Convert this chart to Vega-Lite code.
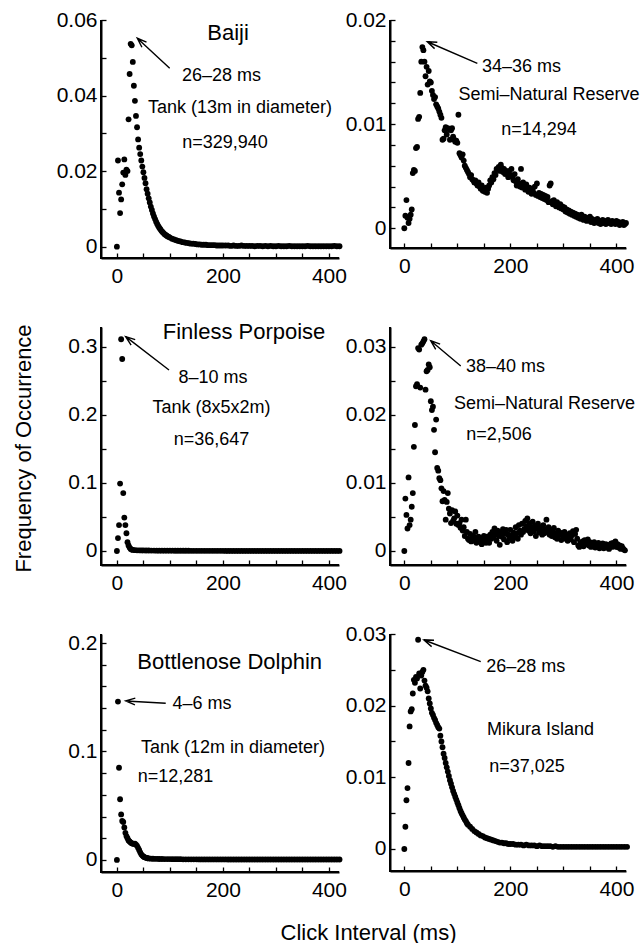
{
"$schema":"https://vega.github.io/schema/vega-lite/v6.json",
"padding":{"left":11,"top":9,"right":0,"bottom":0},
"bounds":"flush",
"columns":2,
"spacing":{"row":69,"column":51},
"config":{"font":"Liberation Sans","view":{"stroke":null},
"axis":{"domain":true,"ticks":true,"grid":false,"domainColor":"#000","domainWidth":2,"tickColor":"#000","tickWidth":1.3,"tickSize":-5,"labelColor":"#000","labelFontSize":21,"labelFont":"Liberation Sans","labelFlush":false,"labelOverlap":false,"titleColor":"#000","titleFont":"Liberation Sans","titleFontSize":22,"titleFontWeight":"normal"},
"axisX":{"labelPadding":12},"axisY":{"labelPadding":9}},
"datasets":{
"p1":[{"x":0,"y":0},{"x":2,"y":0.0228},{"x":4,"y":0.0143},{"x":6,"y":0.0089},{"x":8,"y":0.0125},{"x":10,"y":0.0165},{"x":12,"y":0.0196},{"x":14,"y":0.0231},{"x":16,"y":0.019},{"x":18,"y":0.0204},{"x":20,"y":0.02},{"x":22,"y":0.0337},{"x":24,"y":0.0457},{"x":26,"y":0.0537},{"x":28,"y":0.0533},{"x":30,"y":0.0489},{"x":32,"y":0.0426},{"x":34,"y":0.0386},{"x":36,"y":0.0346},{"x":38,"y":0.0316},{"x":40,"y":0.0284},{"x":42,"y":0.0262},{"x":44,"y":0.0245},{"x":46,"y":0.0228},{"x":48,"y":0.0212},{"x":50,"y":0.0197},{"x":52,"y":0.0182},{"x":54,"y":0.0168},{"x":56,"y":0.0152},{"x":58,"y":0.014},{"x":60,"y":0.0128},{"x":62,"y":0.0117},{"x":64,"y":0.0106},{"x":66,"y":0.0097},{"x":68,"y":0.0088},{"x":70,"y":0.008},{"x":72,"y":0.0073},{"x":74,"y":0.0066},{"x":76,"y":0.006},{"x":78,"y":0.0055},{"x":80,"y":0.005},{"x":82,"y":0.0046},{"x":84,"y":0.0042},{"x":86,"y":0.0039},{"x":88,"y":0.0036},{"x":90,"y":0.0033},{"x":92,"y":0.0031},{"x":94,"y":0.0029},{"x":96,"y":0.0027},{"x":98,"y":0.0026},{"x":100,"y":0.0024},{"x":104,"y":0.0021},{"x":108,"y":0.0019},{"x":112,"y":0.0017},{"x":116,"y":0.0015},{"x":120,"y":0.0014},{"x":124,"y":0.0012},{"x":128,"y":0.0011},{"x":132,"y":0.001},{"x":136,"y":0.0009},{"x":140,"y":0.0008},{"x":144,"y":0.0008},{"x":148,"y":0.0007},{"x":152,"y":0.0006},{"x":156,"y":0.0006},{"x":160,"y":0.0005},{"x":164,"y":0.0005},{"x":168,"y":0.0005},{"x":172,"y":0.0004},{"x":176,"y":0.0004},{"x":180,"y":0.0004},{"x":184,"y":0.0004},{"x":188,"y":0.0003},{"x":192,"y":0.0003},{"x":196,"y":0.0003},{"x":200,"y":0.0003},{"x":205,"y":0.0003},{"x":210,"y":0.0003},{"x":215,"y":0.0002},{"x":220,"y":0.0003},{"x":225,"y":0.0002},{"x":230,"y":0.0002},{"x":235,"y":0.0003},{"x":240,"y":0.0002},{"x":245,"y":0.0002},{"x":250,"y":0.0002},{"x":255,"y":0.0002},{"x":260,"y":0.0001},{"x":265,"y":0.0002},{"x":270,"y":0.0002},{"x":275,"y":0.0001},{"x":280,"y":0.0002},{"x":285,"y":0.0001},{"x":290,"y":0.0002},{"x":295,"y":0.0001},{"x":300,"y":0.0001},{"x":305,"y":0.0002},{"x":310,"y":0.0001},{"x":315,"y":0.0001},{"x":320,"y":0.0001},{"x":325,"y":0.0002},{"x":330,"y":0.0001},{"x":335,"y":0.0001},{"x":340,"y":0.0001},{"x":345,"y":0.0001},{"x":350,"y":0.0001},{"x":355,"y":0.0001},{"x":360,"y":0.0002},{"x":365,"y":0.0001},{"x":370,"y":0.0001},{"x":375,"y":0.0001},{"x":380,"y":0.0001},{"x":385,"y":0.0001},{"x":390,"y":0.0001},{"x":395,"y":0.0001},{"x":400,"y":0.0001},{"x":405,"y":0.0001},{"x":410,"y":0.0002},{"x":415,"y":0.0001},{"x":420,"y":0.0001}],
"p2":[{"x":0,"y":0},{"x":2,"y":0.0012},{"x":4,"y":0.0027},{"x":6,"y":0.001},{"x":8,"y":0.0005},{"x":10,"y":0.0009},{"x":12,"y":0.0013},{"x":14,"y":0.0018},{"x":16,"y":0.0053},{"x":18,"y":0.0056},{"x":20,"y":0.0055},{"x":22,"y":0.0077},{"x":24,"y":0.0078},{"x":26,"y":0.0105},{"x":28,"y":0.0107},{"x":30,"y":0.013},{"x":32,"y":0.016},{"x":34,"y":0.0174},{"x":36,"y":0.0171},{"x":38,"y":0.016},{"x":40,"y":0.0146},{"x":42,"y":0.0155},{"x":44,"y":0.0138},{"x":46,"y":0.0151},{"x":48,"y":0.0141},{"x":50,"y":0.014},{"x":52,"y":0.0132},{"x":54,"y":0.0128},{"x":56,"y":0.0124},{"x":58,"y":0.0126},{"x":60,"y":0.0119},{"x":62,"y":0.0117},{"x":64,"y":0.0115},{"x":66,"y":0.0112},{"x":68,"y":0.0109},{"x":70,"y":0.0106},{"x":72,"y":0.0085},{"x":74,"y":0.0086},{"x":76,"y":0.0094},{"x":78,"y":0.0097},{"x":80,"y":0.009},{"x":82,"y":0.0096},{"x":84,"y":0.0095},{"x":86,"y":0.0085},{"x":88,"y":0.0094},{"x":90,"y":0.0096},{"x":92,"y":0.0088},{"x":94,"y":0.0085},{"x":96,"y":0.0083},{"x":98,"y":0.0084},{"x":100,"y":0.0082},{"x":102,"y":0.0109},{"x":104,"y":0.0072},{"x":106,"y":0.007},{"x":108,"y":0.0068},{"x":110,"y":0.0071},{"x":112,"y":0.0065},{"x":114,"y":0.006},{"x":116,"y":0.0058},{"x":118,"y":0.0056},{"x":120,"y":0.0054},{"x":122,"y":0.0052},{"x":124,"y":0.0049},{"x":126,"y":0.0051},{"x":128,"y":0.0047},{"x":130,"y":0.0046},{"x":132,"y":0.0044},{"x":134,"y":0.0046},{"x":136,"y":0.0043},{"x":138,"y":0.0041},{"x":140,"y":0.0044},{"x":142,"y":0.004},{"x":144,"y":0.0038},{"x":146,"y":0.0041},{"x":148,"y":0.0036},{"x":150,"y":0.0037},{"x":152,"y":0.0035},{"x":154,"y":0.0039},{"x":156,"y":0.0034},{"x":158,"y":0.0038},{"x":160,"y":0.0041},{"x":162,"y":0.0046},{"x":164,"y":0.0044},{"x":166,"y":0.0049},{"x":168,"y":0.0047},{"x":170,"y":0.0053},{"x":172,"y":0.0051},{"x":174,"y":0.0057},{"x":176,"y":0.0056},{"x":178,"y":0.0059},{"x":180,"y":0.0055},{"x":182,"y":0.0061},{"x":184,"y":0.0058},{"x":186,"y":0.0054},{"x":188,"y":0.0057},{"x":190,"y":0.0052},{"x":192,"y":0.0055},{"x":194,"y":0.0053},{"x":196,"y":0.0049},{"x":198,"y":0.0055},{"x":200,"y":0.0051},{"x":202,"y":0.0057},{"x":204,"y":0.0049},{"x":206,"y":0.0046},{"x":208,"y":0.0052},{"x":210,"y":0.0045},{"x":212,"y":0.0041},{"x":214,"y":0.0047},{"x":216,"y":0.0043},{"x":218,"y":0.004},{"x":220,"y":0.0057},{"x":222,"y":0.0039},{"x":224,"y":0.0044},{"x":226,"y":0.0041},{"x":228,"y":0.0037},{"x":230,"y":0.0042},{"x":232,"y":0.0037},{"x":234,"y":0.0035},{"x":236,"y":0.0039},{"x":238,"y":0.0036},{"x":240,"y":0.0033},{"x":242,"y":0.0037},{"x":244,"y":0.0034},{"x":246,"y":0.004},{"x":248,"y":0.0032},{"x":250,"y":0.0043},{"x":252,"y":0.0031},{"x":254,"y":0.0034},{"x":256,"y":0.003},{"x":258,"y":0.0033},{"x":260,"y":0.0029},{"x":262,"y":0.0032},{"x":264,"y":0.0028},{"x":266,"y":0.0031},{"x":268,"y":0.0027},{"x":270,"y":0.003},{"x":272,"y":0.0025},{"x":274,"y":0.0041},{"x":276,"y":0.0043},{"x":278,"y":0.0026},{"x":280,"y":0.0023},{"x":282,"y":0.0027},{"x":284,"y":0.0024},{"x":286,"y":0.0021},{"x":288,"y":0.0025},{"x":290,"y":0.0022},{"x":292,"y":0.002},{"x":294,"y":0.0023},{"x":296,"y":0.0019},{"x":298,"y":0.0021},{"x":300,"y":0.0018},{"x":302,"y":0.002},{"x":304,"y":0.0016},{"x":306,"y":0.0018},{"x":308,"y":0.0015},{"x":310,"y":0.0017},{"x":312,"y":0.0014},{"x":314,"y":0.0016},{"x":316,"y":0.0013},{"x":318,"y":0.0015},{"x":320,"y":0.0012},{"x":322,"y":0.0014},{"x":324,"y":0.0011},{"x":326,"y":0.0013},{"x":328,"y":0.001},{"x":330,"y":0.0012},{"x":332,"y":0.0009},{"x":334,"y":0.0013},{"x":336,"y":0.001},{"x":338,"y":0.0008},{"x":340,"y":0.0011},{"x":342,"y":0.0009},{"x":344,"y":0.0007},{"x":346,"y":0.001},{"x":348,"y":0.0008},{"x":350,"y":0.0011},{"x":352,"y":0.0006},{"x":354,"y":0.0009},{"x":356,"y":0.0007},{"x":358,"y":0.0005},{"x":360,"y":0.0008},{"x":362,"y":0.0006},{"x":364,"y":0.0009},{"x":366,"y":0.0005},{"x":368,"y":0.0007},{"x":370,"y":0.0004},{"x":372,"y":0.0006},{"x":374,"y":0.0008},{"x":376,"y":0.0005},{"x":378,"y":0.0007},{"x":380,"y":0.0004},{"x":382,"y":0.0006},{"x":384,"y":0.0008},{"x":386,"y":0.0005},{"x":388,"y":0.0006},{"x":390,"y":0.0004},{"x":392,"y":0.0007},{"x":394,"y":0.0005},{"x":396,"y":0.0006},{"x":398,"y":0.0004},{"x":400,"y":0.0007},{"x":402,"y":0.0005},{"x":404,"y":0.0006},{"x":406,"y":0.0003},{"x":408,"y":0.0005},{"x":410,"y":0.0004},{"x":412,"y":0.0006},{"x":414,"y":0.0003},{"x":416,"y":0.0004},{"x":418,"y":0.0005}],
"p3":[{"x":0,"y":0},{"x":2,"y":0.019},{"x":4,"y":0.038},{"x":6,"y":0.099},{"x":8,"y":0.311},{"x":10,"y":0.282},{"x":12,"y":0.085},{"x":14,"y":0.049},{"x":16,"y":0.038},{"x":18,"y":0.026},{"x":20,"y":0.013},{"x":22,"y":0.008},{"x":24,"y":0.005},{"x":26,"y":0.003},{"x":28,"y":0.002},{"x":30,"y":0.0015},{"x":34,"y":0.0012},{"x":38,"y":0.001},{"x":42,"y":0.0009},{"x":46,"y":0.0008},{"x":50,"y":0.0008},{"x":55,"y":0.0007},{"x":60,"y":0.0007},{"x":65,"y":0.0006},{"x":70,"y":0.0006},{"x":75,"y":0.0005},{"x":80,"y":0.0005},{"x":85,"y":0.0005},{"x":90,"y":0.0004},{"x":95,"y":0.0004},{"x":100,"y":0.0004},{"x":105,"y":0.0004},{"x":110,"y":0.0003},{"x":115,"y":0.0003},{"x":120,"y":0.0003},{"x":125,"y":0.0003},{"x":130,"y":0.0003},{"x":135,"y":0.0003},{"x":140,"y":0.0002},{"x":145,"y":0.0002},{"x":150,"y":0.0002},{"x":155,"y":0.0002},{"x":160,"y":0.0002},{"x":165,"y":0.0002},{"x":170,"y":0.0002},{"x":175,"y":0.0002},{"x":180,"y":0.0002},{"x":185,"y":0.0002},{"x":190,"y":0.0002},{"x":195,"y":0.0002},{"x":200,"y":0.0002},{"x":205,"y":0.0001},{"x":210,"y":0.0001},{"x":215,"y":0.0001},{"x":220,"y":0.0001},{"x":225,"y":0.0001},{"x":230,"y":0.0001},{"x":235,"y":0.0001},{"x":240,"y":0.0001},{"x":245,"y":0.0001},{"x":250,"y":0.0001},{"x":255,"y":0.0001},{"x":260,"y":0.0001},{"x":265,"y":0.0001},{"x":270,"y":0.0001},{"x":275,"y":0.0001},{"x":280,"y":0.0001},{"x":285,"y":0.0001},{"x":290,"y":0.0001},{"x":295,"y":0.0001},{"x":300,"y":0.0001},{"x":305,"y":0.0001},{"x":310,"y":0.0001},{"x":315,"y":0.0001},{"x":320,"y":0.0001},{"x":325,"y":0.0001},{"x":330,"y":0.0001},{"x":335,"y":0.0001},{"x":340,"y":0.0001},{"x":345,"y":0.0001},{"x":350,"y":0.0001},{"x":355,"y":0.0001},{"x":360,"y":0.0001},{"x":365,"y":0.0001},{"x":370,"y":0.0001},{"x":375,"y":0.0001},{"x":380,"y":0.0001},{"x":385,"y":0.0001},{"x":390,"y":0.0001},{"x":395,"y":0.0001},{"x":400,"y":0.0001},{"x":405,"y":0.0001},{"x":410,"y":0.0001},{"x":415,"y":0.0001},{"x":420,"y":0.0001}],
"p4":[{"x":0,"y":0},{"x":2,"y":0.0077},{"x":4,"y":0.0053},{"x":6,"y":0.0033},{"x":8,"y":0.0108},{"x":10,"y":0.0038},{"x":12,"y":0.0046},{"x":14,"y":0.0065},{"x":16,"y":0.0085},{"x":18,"y":0.0153},{"x":20,"y":0.0185},{"x":22,"y":0.0242},{"x":24,"y":0.0245},{"x":26,"y":0.0298},{"x":28,"y":0.0296},{"x":30,"y":0.024},{"x":32,"y":0.0303},{"x":34,"y":0.0305},{"x":36,"y":0.0308},{"x":38,"y":0.0311},{"x":40,"y":0.0237},{"x":42,"y":0.0264},{"x":44,"y":0.0266},{"x":46,"y":0.0274},{"x":48,"y":0.027},{"x":50,"y":0.022},{"x":52,"y":0.0207},{"x":54,"y":0.0212},{"x":56,"y":0.0178},{"x":58,"y":0.0145},{"x":60,"y":0.0193},{"x":62,"y":0.0122},{"x":64,"y":0.0118},{"x":66,"y":0.0107},{"x":68,"y":0.0104},{"x":70,"y":0.0092},{"x":72,"y":0.0073},{"x":74,"y":0.0088},{"x":76,"y":0.0075},{"x":78,"y":0.0046},{"x":80,"y":0.0072},{"x":82,"y":0.0085},{"x":84,"y":0.0062},{"x":86,"y":0.0055},{"x":88,"y":0.0041},{"x":90,"y":0.006},{"x":92,"y":0.0044},{"x":94,"y":0.0048},{"x":96,"y":0.0058},{"x":98,"y":0.004},{"x":100,"y":0.0052},{"x":102,"y":0.0038},{"x":104,"y":0.0041},{"x":106,"y":0.0034},{"x":108,"y":0.0046},{"x":110,"y":0.003},{"x":112,"y":0.0035},{"x":114,"y":0.0022},{"x":116,"y":0.0046},{"x":118,"y":0.0028},{"x":120,"y":0.0018},{"x":122,"y":0.0016},{"x":124,"y":0.0025},{"x":126,"y":0.0014},{"x":128,"y":0.0019},{"x":130,"y":0.0022},{"x":132,"y":0.0015},{"x":134,"y":0.0028},{"x":136,"y":0.0012},{"x":138,"y":0.0018},{"x":140,"y":0.0021},{"x":142,"y":0.0014},{"x":144,"y":0.0019},{"x":146,"y":0.001},{"x":148,"y":0.0016},{"x":150,"y":0.0022},{"x":152,"y":0.0017},{"x":154,"y":0.0012},{"x":156,"y":0.0021},{"x":158,"y":0.0018},{"x":160,"y":0.0012},{"x":162,"y":0.0024},{"x":164,"y":0.0018},{"x":166,"y":0.0028},{"x":168,"y":0.002},{"x":170,"y":0.0033},{"x":172,"y":0.0026},{"x":174,"y":0.0015},{"x":176,"y":0.003},{"x":178,"y":0.0022},{"x":180,"y":0.0009},{"x":182,"y":0.0027},{"x":184,"y":0.0021},{"x":186,"y":0.0032},{"x":188,"y":0.0017},{"x":190,"y":0.0025},{"x":192,"y":0.0031},{"x":194,"y":0.0013},{"x":196,"y":0.0024},{"x":198,"y":0.0019},{"x":200,"y":0.0031},{"x":202,"y":0.0022},{"x":204,"y":0.0015},{"x":206,"y":0.0027},{"x":208,"y":0.002},{"x":210,"y":0.0035},{"x":212,"y":0.0026},{"x":214,"y":0.0018},{"x":216,"y":0.0038},{"x":218,"y":0.003},{"x":220,"y":0.0024},{"x":222,"y":0.004},{"x":224,"y":0.0028},{"x":226,"y":0.0032},{"x":228,"y":0.0044},{"x":230,"y":0.0036},{"x":232,"y":0.0048},{"x":234,"y":0.003},{"x":236,"y":0.0041},{"x":238,"y":0.0026},{"x":240,"y":0.0035},{"x":242,"y":0.0043},{"x":244,"y":0.0029},{"x":246,"y":0.0037},{"x":248,"y":0.0022},{"x":250,"y":0.0033},{"x":252,"y":0.004},{"x":254,"y":0.0027},{"x":256,"y":0.0035},{"x":258,"y":0.003},{"x":260,"y":0.0024},{"x":262,"y":0.0038},{"x":264,"y":0.0026},{"x":266,"y":0.0032},{"x":268,"y":0.0046},{"x":270,"y":0.0029},{"x":272,"y":0.0035},{"x":274,"y":0.0024},{"x":276,"y":0.0031},{"x":278,"y":0.0022},{"x":280,"y":0.0028},{"x":282,"y":0.0034},{"x":284,"y":0.002},{"x":286,"y":0.0026},{"x":288,"y":0.0018},{"x":290,"y":0.003},{"x":292,"y":0.0023},{"x":294,"y":0.0027},{"x":296,"y":0.0016},{"x":298,"y":0.0025},{"x":300,"y":0.0021},{"x":302,"y":0.0028},{"x":304,"y":0.0018},{"x":306,"y":0.0024},{"x":308,"y":0.0015},{"x":310,"y":0.0022},{"x":312,"y":0.0026},{"x":314,"y":0.0017},{"x":316,"y":0.0023},{"x":318,"y":0.0029},{"x":320,"y":0.0013},{"x":322,"y":0.0025},{"x":324,"y":0.0031},{"x":326,"y":0.0018},{"x":328,"y":0.0008},{"x":330,"y":0.0006},{"x":332,"y":0.0012},{"x":334,"y":0.0009},{"x":336,"y":0.0014},{"x":338,"y":0.0007},{"x":340,"y":0.0016},{"x":342,"y":0.001},{"x":344,"y":0.0012},{"x":346,"y":0.0017},{"x":348,"y":0.0008},{"x":350,"y":0.0013},{"x":352,"y":0.0006},{"x":354,"y":0.0011},{"x":356,"y":0.0008},{"x":358,"y":0.0013},{"x":360,"y":0.0005},{"x":362,"y":0.001},{"x":364,"y":0.0007},{"x":366,"y":0.0012},{"x":368,"y":0.0004},{"x":370,"y":0.0009},{"x":372,"y":0.0006},{"x":374,"y":0.0011},{"x":376,"y":0.0004},{"x":378,"y":0.0008},{"x":380,"y":0.001},{"x":382,"y":0.0005},{"x":384,"y":0.0009},{"x":386,"y":0.0003},{"x":388,"y":0.0007},{"x":390,"y":0.0011},{"x":392,"y":0.0006},{"x":394,"y":0.0012},{"x":396,"y":0.0009},{"x":398,"y":0.0014},{"x":400,"y":0.0006},{"x":402,"y":0.001},{"x":404,"y":0.0005},{"x":406,"y":0.0008},{"x":408,"y":0.0003},{"x":410,"y":0.0007},{"x":412,"y":0.0004},{"x":414,"y":0.0002},{"x":416,"y":0.0001}],
"p5":[{"x":0,"y":0},{"x":2,"y":0.146},{"x":4,"y":0.085},{"x":6,"y":0.056},{"x":8,"y":0.042},{"x":10,"y":0.036},{"x":12,"y":0.035},{"x":14,"y":0.03},{"x":16,"y":0.025},{"x":18,"y":0.022},{"x":20,"y":0.02},{"x":22,"y":0.018},{"x":24,"y":0.017},{"x":26,"y":0.016},{"x":28,"y":0.0155},{"x":30,"y":0.015},{"x":32,"y":0.0148},{"x":34,"y":0.015},{"x":36,"y":0.0142},{"x":38,"y":0.013},{"x":40,"y":0.0112},{"x":42,"y":0.0092},{"x":44,"y":0.007},{"x":46,"y":0.0052},{"x":48,"y":0.004},{"x":50,"y":0.0032},{"x":52,"y":0.0026},{"x":54,"y":0.0022},{"x":56,"y":0.0019},{"x":58,"y":0.0016},{"x":60,"y":0.0014},{"x":64,"y":0.0012},{"x":68,"y":0.0011},{"x":72,"y":0.001},{"x":76,"y":0.001},{"x":80,"y":0.0009},{"x":85,"y":0.0009},{"x":90,"y":0.0008},{"x":95,"y":0.0008},{"x":100,"y":0.0008},{"x":105,"y":0.0007},{"x":110,"y":0.0007},{"x":115,"y":0.0007},{"x":120,"y":0.0007},{"x":125,"y":0.0006},{"x":130,"y":0.0006},{"x":135,"y":0.0006},{"x":140,"y":0.0006},{"x":145,"y":0.0006},{"x":150,"y":0.0006},{"x":155,"y":0.0005},{"x":160,"y":0.0005},{"x":165,"y":0.0005},{"x":170,"y":0.0005},{"x":175,"y":0.0005},{"x":180,"y":0.0005},{"x":185,"y":0.0005},{"x":190,"y":0.0005},{"x":195,"y":0.0005},{"x":200,"y":0.0005},{"x":205,"y":0.0005},{"x":210,"y":0.0004},{"x":215,"y":0.0004},{"x":220,"y":0.0004},{"x":225,"y":0.0004},{"x":230,"y":0.0004},{"x":235,"y":0.0004},{"x":240,"y":0.0004},{"x":245,"y":0.0004},{"x":250,"y":0.0004},{"x":255,"y":0.0004},{"x":260,"y":0.0004},{"x":265,"y":0.0004},{"x":270,"y":0.0004},{"x":275,"y":0.0004},{"x":280,"y":0.0004},{"x":285,"y":0.0004},{"x":290,"y":0.0004},{"x":295,"y":0.0004},{"x":300,"y":0.0004},{"x":305,"y":0.0004},{"x":310,"y":0.0004},{"x":315,"y":0.0004},{"x":320,"y":0.0004},{"x":325,"y":0.0004},{"x":330,"y":0.0004},{"x":335,"y":0.0004},{"x":340,"y":0.0004},{"x":345,"y":0.0004},{"x":350,"y":0.0004},{"x":355,"y":0.0004},{"x":360,"y":0.0004},{"x":365,"y":0.0004},{"x":370,"y":0.0004},{"x":375,"y":0.0004},{"x":380,"y":0.0004},{"x":385,"y":0.0004},{"x":390,"y":0.0004},{"x":395,"y":0.0004},{"x":400,"y":0.0004},{"x":405,"y":0.0004},{"x":410,"y":0.0004},{"x":415,"y":0.0004},{"x":420,"y":0.0004}],
"p6":[{"x":0,"y":0},{"x":2,"y":0.0031},{"x":4,"y":0.0068},{"x":6,"y":0.0085},{"x":8,"y":0.012},{"x":10,"y":0.0171},{"x":12,"y":0.0192},{"x":14,"y":0.0195},{"x":16,"y":0.0217},{"x":18,"y":0.0236},{"x":20,"y":0.0232},{"x":22,"y":0.024},{"x":24,"y":0.0238},{"x":26,"y":0.0292},{"x":28,"y":0.0245},{"x":30,"y":0.0224},{"x":32,"y":0.0242},{"x":34,"y":0.0247},{"x":36,"y":0.025},{"x":38,"y":0.0235},{"x":40,"y":0.0228},{"x":42,"y":0.0225},{"x":44,"y":0.022},{"x":46,"y":0.021},{"x":48,"y":0.0203},{"x":50,"y":0.0196},{"x":52,"y":0.019},{"x":54,"y":0.0187},{"x":56,"y":0.0183},{"x":58,"y":0.018},{"x":60,"y":0.0176},{"x":62,"y":0.0173},{"x":64,"y":0.017},{"x":66,"y":0.0168},{"x":68,"y":0.0158},{"x":70,"y":0.015},{"x":72,"y":0.0142},{"x":74,"y":0.0133},{"x":76,"y":0.0127},{"x":78,"y":0.012},{"x":80,"y":0.0114},{"x":82,"y":0.0108},{"x":84,"y":0.0102},{"x":86,"y":0.0096},{"x":88,"y":0.0091},{"x":90,"y":0.0086},{"x":92,"y":0.0081},{"x":94,"y":0.0077},{"x":96,"y":0.0073},{"x":98,"y":0.0069},{"x":100,"y":0.0065},{"x":102,"y":0.0061},{"x":104,"y":0.0057},{"x":106,"y":0.0053},{"x":108,"y":0.005},{"x":110,"y":0.0047},{"x":112,"y":0.0044},{"x":114,"y":0.0041},{"x":116,"y":0.0039},{"x":118,"y":0.0036},{"x":120,"y":0.0034},{"x":124,"y":0.0031},{"x":128,"y":0.0028},{"x":132,"y":0.0025},{"x":136,"y":0.0023},{"x":140,"y":0.0021},{"x":144,"y":0.0019},{"x":148,"y":0.0018},{"x":152,"y":0.0016},{"x":156,"y":0.0015},{"x":160,"y":0.0014},{"x":164,"y":0.0013},{"x":168,"y":0.0012},{"x":172,"y":0.0011},{"x":176,"y":0.001},{"x":180,"y":0.0009},{"x":184,"y":0.0009},{"x":188,"y":0.0008},{"x":192,"y":0.0008},{"x":196,"y":0.0007},{"x":200,"y":0.0007},{"x":205,"y":0.0007},{"x":210,"y":0.0006},{"x":215,"y":0.0006},{"x":220,"y":0.0006},{"x":225,"y":0.0005},{"x":230,"y":0.0006},{"x":235,"y":0.0005},{"x":240,"y":0.0005},{"x":245,"y":0.0005},{"x":250,"y":0.0004},{"x":255,"y":0.0005},{"x":260,"y":0.0004},{"x":265,"y":0.0004},{"x":270,"y":0.0004},{"x":275,"y":0.0004},{"x":280,"y":0.0003},{"x":285,"y":0.0004},{"x":290,"y":0.0003},{"x":295,"y":0.0003},{"x":300,"y":0.0003},{"x":305,"y":0.0003},{"x":310,"y":0.0003},{"x":315,"y":0.0003},{"x":320,"y":0.0003},{"x":325,"y":0.0003},{"x":330,"y":0.0003},{"x":335,"y":0.0003},{"x":340,"y":0.0003},{"x":345,"y":0.0003},{"x":350,"y":0.0003},{"x":355,"y":0.0003},{"x":360,"y":0.0003},{"x":365,"y":0.0003},{"x":370,"y":0.0003},{"x":375,"y":0.0003},{"x":380,"y":0.0003},{"x":385,"y":0.0003},{"x":390,"y":0.0003},{"x":395,"y":0.0003},{"x":400,"y":0.0003},{"x":405,"y":0.0003},{"x":410,"y":0.0003},{"x":415,"y":0.0003},{"x":420,"y":0.0003}]
},
"concat":[
{"width":238,"height":238,
"encoding":{"x":{"field":"x","type":"quantitative","scale":{"domain":[-30,419],"nice":false,"zero":false},"axis":{"domain":true,"ticks":true,"domainColor":"#000","domainWidth":2,"tickColor":"#000","tickWidth":1.3,"tickSize":-5,"values":[0,50,100,150,200,250,300,350,400],"format":"d","labelExpr":"datum.value%200==0?datum.label:''","title":null}},
"y":{"field":"y","type":"quantitative","scale":{"domain":[-0.003,0.06],"nice":false,"zero":false},"axis":{"domain":true,"ticks":true,"domainColor":"#000","domainWidth":2,"tickColor":"#000","tickWidth":1.3,"tickSize":-5,"values":[0,0.01,0.02,0.03,0.04,0.05,0.06],"format":"~g","labelExpr":"(datum.value==0||datum.value==0.02||datum.value==0.04||datum.value==0.06)?datum.label:''","title":null}}},
"layer":[
{"data":{"values":[{"x":-30,"y":0.06,"o":1},{"x":-30,"y":-0.003,"o":2},{"x":419,"y":-0.003,"o":3}]},"mark":{"type":"line","color":"#000","strokeWidth":2},"encoding":{"order":{"field":"o","type":"quantitative"}}},
{"data":{"name":"p1"},"mark":{"type":"circle","size":34,"color":"#000","opacity":1}},
{"data":{"values":[{"x":38.5,"y":0.05516,"o":2},{"x":47.2,"y":0.0528,"o":1},{"x":55.8,"y":0.05412,"o":3},{"x":38.5,"y":0.05516,"o":4},{"x":99.6,"y":0.04722,"o":5}]},"mark":{"type":"line","color":"#000","strokeWidth":1.4},"encoding":{"order":{"field":"o","type":"quantitative"}}},
{"data":{"values":[{"x":209.6,"y":0.05656,"t":"Baiji"}]},"mark":{"type":"text","fontSize":22,"baseline":"middle","color":"#000"},"encoding":{"text":{"field":"t"}}},
{"data":{"values":[{"x":197.3,"y":0.04518,"t":"26–28 ms"},{"x":232.2,"y":0.03671,"t":"Tank (13m in diameter)"},{"x":203.9,"y":0.02744,"t":"n=329,940"}]},"mark":{"type":"text","fontSize":18,"baseline":"middle","color":"#000"},"encoding":{"text":{"field":"t"}}}
]},
{"width":236,"height":228,
"encoding":{"x":{"field":"x","type":"quantitative","scale":{"domain":[-27,418],"nice":false,"zero":false},"axis":{"domain":true,"ticks":true,"domainColor":"#000","domainWidth":2,"tickColor":"#000","tickWidth":1.3,"tickSize":-5,"values":[0,50,100,150,200,250,300,350,400],"format":"d","labelExpr":"datum.value%200==0?datum.label:''","title":null}},
"y":{"field":"y","type":"quantitative","scale":{"domain":[-0.0019,0.02],"nice":false,"zero":false},"axis":{"domain":true,"ticks":true,"domainColor":"#000","domainWidth":2,"tickColor":"#000","tickWidth":1.3,"tickSize":-5,"values":[0,0.002,0.004,0.006,0.008,0.01,0.012,0.014,0.016,0.018,0.02],"format":"~g","labelExpr":"(datum.value==0||datum.value==0.01||datum.value==0.02)?datum.label:''","title":null}}},
"layer":[
{"data":{"values":[{"x":-27,"y":0.02,"o":1},{"x":-27,"y":-0.0019,"o":2},{"x":418,"y":-0.0019,"o":3}]},"mark":{"type":"line","color":"#000","strokeWidth":2},"encoding":{"order":{"field":"o","type":"quantitative"}}},
{"data":{"name":"p2"},"mark":{"type":"circle","size":34,"color":"#000","opacity":1}},
{"data":{"values":[{"x":43.4,"y":0.01791,"o":2},{"x":57.1,"y":0.01725,"o":1},{"x":62.2,"y":0.01786,"o":3},{"x":43.4,"y":0.01791,"o":4},{"x":137.7,"y":0.01584,"o":5}]},"mark":{"type":"line","color":"#000","strokeWidth":1.4},"encoding":{"order":{"field":"o","type":"quantitative"}}},
{"data":{"values":[{"x":221.0,"y":0.01551,"t":"34–36 ms"},{"x":272.9,"y":0.01279,"t":"Semi–Natural Reserve"},{"x":253.9,"y":0.00943,"t":"n=14,294"}]},"mark":{"type":"text","fontSize":18,"baseline":"middle","color":"#000"},"encoding":{"text":{"field":"t"}}}
]},
{"width":238,"height":238,
"encoding":{"x":{"field":"x","type":"quantitative","scale":{"domain":[-30,419],"nice":false,"zero":false},"axis":{"domain":true,"ticks":true,"domainColor":"#000","domainWidth":2,"tickColor":"#000","tickWidth":1.3,"tickSize":-5,"values":[0,50,100,150,200,250,300,350,400],"format":"d","labelExpr":"datum.value%200==0?datum.label:''","title":null}},
"y":{"field":"y","type":"quantitative","scale":{"domain":[-0.0206,0.329],"nice":false,"zero":false},"axis":{"domain":true,"ticks":true,"domainColor":"#000","domainWidth":2,"tickColor":"#000","tickWidth":1.3,"tickSize":-5,"values":[0,0.05,0.1,0.15,0.2,0.25,0.3],"format":"~g","labelExpr":"(datum.value==0||datum.value==0.1||datum.value==0.2||datum.value==0.3)?datum.label:''","title":"Frequency of Occurrence","titleX":-66,"titleY":121}}},
"layer":[
{"data":{"values":[{"x":-30,"y":0.329,"o":1},{"x":-30,"y":-0.0206,"o":2},{"x":419,"y":-0.0206,"o":3}]},"mark":{"type":"line","color":"#000","strokeWidth":2},"encoding":{"order":{"field":"o","type":"quantitative"}}},
{"data":{"name":"p3"},"mark":{"type":"circle","size":34,"color":"#000","opacity":1}},
{"data":{"values":[{"x":16.6,"y":0.3148,"o":2},{"x":26.8,"y":0.3024,"o":1},{"x":34.5,"y":0.3104,"o":3},{"x":16.6,"y":0.3148,"o":4},{"x":98.3,"y":0.2659,"o":5}]},"mark":{"type":"line","color":"#000","strokeWidth":1.4},"encoding":{"order":{"field":"o","type":"quantitative"}}},
{"data":{"values":[{"x":239.8,"y":0.3221,"t":"Finless Porpoise"}]},"mark":{"type":"text","fontSize":22,"baseline":"middle","color":"#000"},"encoding":{"text":{"field":"t"}}},
{"data":{"values":[{"x":181.3,"y":0.2537,"t":"8–10 ms"},{"x":178.5,"y":0.2096,"t":"Tank (8x5x2m)"},{"x":178.5,"y":0.163,"t":"n=36,647"}]},"mark":{"type":"text","fontSize":18,"baseline":"middle","color":"#000"},"encoding":{"text":{"field":"t"}}}
]},
{"width":236,"height":238,
"encoding":{"x":{"field":"x","type":"quantitative","scale":{"domain":[-27,418],"nice":false,"zero":false},"axis":{"domain":true,"ticks":true,"domainColor":"#000","domainWidth":2,"tickColor":"#000","tickWidth":1.3,"tickSize":-5,"values":[0,50,100,150,200,250,300,350,400],"format":"d","labelExpr":"datum.value%200==0?datum.label:''","title":null}},
"y":{"field":"y","type":"quantitative","scale":{"domain":[-0.00206,0.0329],"nice":false,"zero":false},"axis":{"domain":true,"ticks":true,"domainColor":"#000","domainWidth":2,"tickColor":"#000","tickWidth":1.3,"tickSize":-5,"values":[0,0.005,0.01,0.015,0.02,0.025,0.03],"format":"~g","labelExpr":"(datum.value==0||datum.value==0.01||datum.value==0.02||datum.value==0.03)?datum.label:''","title":null}}},
"layer":[
{"data":{"values":[{"x":-27,"y":0.0329,"o":1},{"x":-27,"y":-0.00206,"o":2},{"x":418,"y":-0.00206,"o":3}]},"mark":{"type":"line","color":"#000","strokeWidth":2},"encoding":{"order":{"field":"o","type":"quantitative"}}},
{"data":{"name":"p4"},"mark":{"type":"circle","size":34,"color":"#000","opacity":1}},
{"data":{"values":[{"x":49.8,"y":0.03089,"o":2},{"x":59.2,"y":0.02961,"o":1},{"x":67.5,"y":0.03039,"o":3},{"x":49.8,"y":0.03089,"o":4},{"x":106.4,"y":0.02718,"o":5}]},"mark":{"type":"line","color":"#000","strokeWidth":1.4},"encoding":{"order":{"field":"o","type":"quantitative"}}},
{"data":{"values":[{"x":190.8,"y":0.02698,"t":"38–40 ms"},{"x":264.4,"y":0.02159,"t":"Semi–Natural Reserve"},{"x":178.5,"y":0.01704,"t":"n=2,506"}]},"mark":{"type":"text","fontSize":18,"baseline":"middle","color":"#000"},"encoding":{"text":{"field":"t"}}}
]},
{"width":238,"height":238,
"encoding":{"x":{"field":"x","type":"quantitative","scale":{"domain":[-30,419],"nice":false,"zero":false},"axis":{"domain":true,"ticks":true,"domainColor":"#000","domainWidth":2,"tickColor":"#000","tickWidth":1.3,"tickSize":-5,"values":[0,50,100,150,200,250,300,350,400],"format":"d","labelExpr":"datum.value%200==0?datum.label:''","title":"Click Interval (ms)","titleX":267,"titleY":50}},
"y":{"field":"y","type":"quantitative","scale":{"domain":[-0.0111,0.2083],"nice":false,"zero":false},"axis":{"domain":true,"ticks":true,"domainColor":"#000","domainWidth":2,"tickColor":"#000","tickWidth":1.3,"tickSize":-5,"values":[0,0.02,0.04,0.06,0.08,0.1,0.12,0.14,0.16,0.18,0.2],"format":"~g","labelExpr":"(datum.value==0||datum.value==0.1||datum.value==0.2)?datum.label:''","title":null}}},
"layer":[
{"data":{"values":[{"x":-30,"y":0.2083,"o":1},{"x":-30,"y":-0.0111,"o":2},{"x":419,"y":-0.0111,"o":3}]},"mark":{"type":"line","color":"#000","strokeWidth":2},"encoding":{"order":{"field":"o","type":"quantitative"}}},
{"data":{"name":"p5"},"mark":{"type":"circle","size":34,"color":"#000","opacity":1}},
{"data":{"values":[{"x":16.6,"y":0.1466,"o":2},{"x":34.0,"y":0.1429,"o":1},{"x":34.7,"y":0.1492,"o":3},{"x":16.6,"y":0.1466,"o":4},{"x":92.1,"y":0.1445,"o":5}]},"mark":{"type":"line","color":"#000","strokeWidth":1.4},"encoding":{"order":{"field":"o","type":"quantitative"}}},
{"data":{"values":[{"x":212.8,"y":0.1828,"t":"Bottlenose Dolphin"}]},"mark":{"type":"text","fontSize":22,"baseline":"middle","color":"#000"},"encoding":{"text":{"field":"t"}}},
{"data":{"values":[{"x":160.5,"y":0.1438,"t":"4–6 ms"},{"x":219.0,"y":0.103,"t":"Tank (12m in diameter)"},{"x":110.5,"y":0.0768,"t":"n=12,281"}]},"mark":{"type":"text","fontSize":18,"baseline":"middle","color":"#000"},"encoding":{"text":{"field":"t"}}}
]},
{"width":236,"height":237,
"encoding":{"x":{"field":"x","type":"quantitative","scale":{"domain":[-27,418],"nice":false,"zero":false},"axis":{"domain":true,"ticks":true,"domainColor":"#000","domainWidth":2,"tickColor":"#000","tickWidth":1.3,"tickSize":-5,"values":[0,50,100,150,200,250,300,350,400],"format":"d","labelExpr":"datum.value%200==0?datum.label:''","title":null}},
"y":{"field":"y","type":"quantitative","scale":{"domain":[-0.00307,0.03],"nice":false,"zero":false},"axis":{"domain":true,"ticks":true,"domainColor":"#000","domainWidth":2,"tickColor":"#000","tickWidth":1.3,"tickSize":-5,"values":[0,0.005,0.01,0.015,0.02,0.025,0.03],"format":"~g","labelExpr":"(datum.value==0||datum.value==0.01||datum.value==0.02||datum.value==0.03)?datum.label:''","title":null}}},
"layer":[
{"data":{"values":[{"x":-27,"y":0.03,"o":1},{"x":-27,"y":-0.00307,"o":2},{"x":418,"y":-0.00307,"o":3}]},"mark":{"type":"line","color":"#000","strokeWidth":2},"encoding":{"order":{"field":"o","type":"quantitative"}}},
{"data":{"name":"p6"},"mark":{"type":"circle","size":34,"color":"#000","opacity":1}},
{"data":{"values":[{"x":37.1,"y":0.02916,"o":2},{"x":51.5,"y":0.02824,"o":1},{"x":56.0,"y":0.02913,"o":3},{"x":37.1,"y":0.02916,"o":4},{"x":144.1,"y":0.02614,"o":5}]},"mark":{"type":"line","color":"#000","strokeWidth":1.4},"encoding":{"order":{"field":"o","type":"quantitative"}}},
{"data":{"values":[{"x":228.9,"y":0.02544,"t":"26–28 ms"},{"x":256.8,"y":0.0166,"t":"Mikura Island"},{"x":231.4,"y":0.01148,"t":"n=37,025"}]},"mark":{"type":"text","fontSize":18,"baseline":"middle","color":"#000"},"encoding":{"text":{"field":"t"}}}
]}
]
}
